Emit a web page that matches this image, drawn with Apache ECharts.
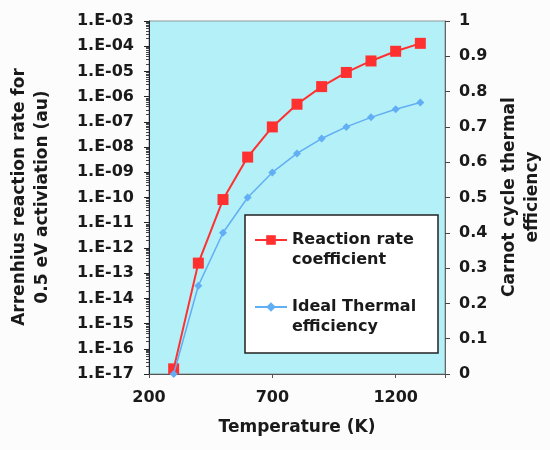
<!DOCTYPE html>
<html>
<head>
<meta charset="utf-8">
<script src="https://cdn.jsdelivr.net/npm/echarts@6/dist/echarts.min.js"></script>
<style>
html,body{margin:0;padding:0;background:#fdfcfc;}
#chart{width:550px;height:450px;}
</style>
</head>
<body>
<div id="chart"></div>
<script>
// Data
const temperatures = [300, 400, 500, 600, 700, 800, 900, 1000, 1100, 1200, 1300];
const reactionRate = [1.6e-17, 2.5e-13, 8.3e-11, 4.0e-9, 6.3e-8, 5.0e-7, 2.5e-6, 9.1e-6, 2.6e-5, 6.3e-5, 1.3e-4];
const thermalEfficiency = [0, 0.25, 0.40, 0.50, 0.571, 0.625, 0.667, 0.70, 0.727, 0.75, 0.769];
const xTickLabels = [200, 700, 1200];
const seriesNames = ['Reaction rate\ncoefficient', 'Ideal Thermal\nefficiency'];
const xTitle = 'Temperature (K)';
const leftTitle = 'Arrenhius reaction rate for\n0.5 eV activiation (au)';
const rightTitle = 'Carnot cycle thermal\nefficiency';

const FONT = 'DejaVu Sans';
const TXT = '#1a1a1a';

function logFmt(v) {
  const e = Math.round(Math.log10(v));
  const a = Math.abs(e);
  return '1.E' + (e < 0 ? '-' : '+') + (a < 10 ? '0' : '') + a;
}

const chart = echarts.init(document.getElementById('chart'), null, {renderer: 'canvas'});
chart.setOption({
  backgroundColor: '#fdfcfc',
  animation: false,
  grid: {
    left: 149, right: 105, top: 21, bottom: 76,
    show: true, backgroundColor: '#b4f0f7', borderColor: '#8a9a9c', borderWidth: 1
  },
  xAxis: {
    type: 'value', min: 200, max: 1400, interval: 500,
    axisLine: {show: true, lineStyle: {color: '#555', width: 1}},
    axisTick: {show: true, length: 4, lineStyle: {color: '#555'}},
    splitLine: {show: false},
    axisLabel: {
      margin: 16, color: TXT, fontFamily: FONT, fontWeight: 'bold', fontSize: 16,
      formatter: v => xTickLabels.indexOf(v) >= 0 ? String(v) : ''
    }
  },
  yAxis: [{
    type: 'log', logBase: 10, min: 1e-17, max: 1e-3, interval: 1,
    position: 'left',
    axisLine: {show: true, lineStyle: {color: '#222', width: 1}},
    axisTick: {show: true, length: 5, lineStyle: {color: '#222'}},
    minorTick: {show: true, splitNumber: 9, length: 3, lineStyle: {color: '#444'}},
    splitLine: {show: false},
    axisLabel: {margin: 15, color: TXT, fontFamily: FONT, fontWeight: 'bold', fontSize: 16, formatter: logFmt}
  }, {
    type: 'value', min: 0, max: 1, interval: 0.1,
    position: 'right',
    axisLine: {show: true, lineStyle: {color: '#666', width: 1}},
    axisTick: {show: true, length: 5, lineStyle: {color: '#444'}},
    splitLine: {show: false},
    axisLabel: {margin: 14, color: TXT, fontFamily: FONT, fontWeight: 'bold', fontSize: 16}
  }],
  legend: {
    orient: 'vertical', left: 254, top: 210, padding: 0, itemGap: 7,
    itemWidth: 32, itemHeight: 12, z: 6,
    textStyle: {fontFamily: FONT, fontWeight: 'bold', fontSize: 16, color: TXT, lineHeight: 20},
    formatter: name => '\n' + name,
    data: seriesNames
  },
  graphic: [
    {type: 'rect', z: 5, shape: {x: 245, y: 215, width: 193, height: 138},
     style: {fill: '#ffffff', stroke: '#222', lineWidth: 1.5}},
    {type: 'text', x: 31, y: 197, rotation: Math.PI / 2,
     style: {text: leftTitle, fill: TXT, font: 'bold 17px "DejaVu Sans"', textAlign: 'center', textVerticalAlign: 'middle', lineHeight: 23}},
    {type: 'text', x: 521, y: 197, rotation: Math.PI / 2,
     style: {text: rightTitle, fill: TXT, font: 'bold 17px "DejaVu Sans"', textAlign: 'center', textVerticalAlign: 'middle', lineHeight: 23}},
    {type: 'text', x: 297, y: 428,
     style: {text: xTitle, fill: TXT, font: 'bold 17px "DejaVu Sans"', textAlign: 'center', textVerticalAlign: 'middle'}}
  ],
  series: [{
    name: seriesNames[0], type: 'line', yAxisIndex: 0, clip: false, z: 2,
    data: temperatures.map((t, i) => [t, reactionRate[i]]),
    symbol: 'rect', symbolSize: 11,
    lineStyle: {color: '#ff3030', width: 2},
    itemStyle: {color: '#ff3030'}
  }, {
    name: seriesNames[1], type: 'line', yAxisIndex: 1, clip: false, z: 3,
    data: temperatures.map((t, i) => [t, thermalEfficiency[i]]),
    symbol: 'diamond', symbolSize: 8,
    lineStyle: {color: '#62aef5', width: 1.5},
    itemStyle: {color: '#62aef5'}
  }]
});
</script>
</body>
</html>
